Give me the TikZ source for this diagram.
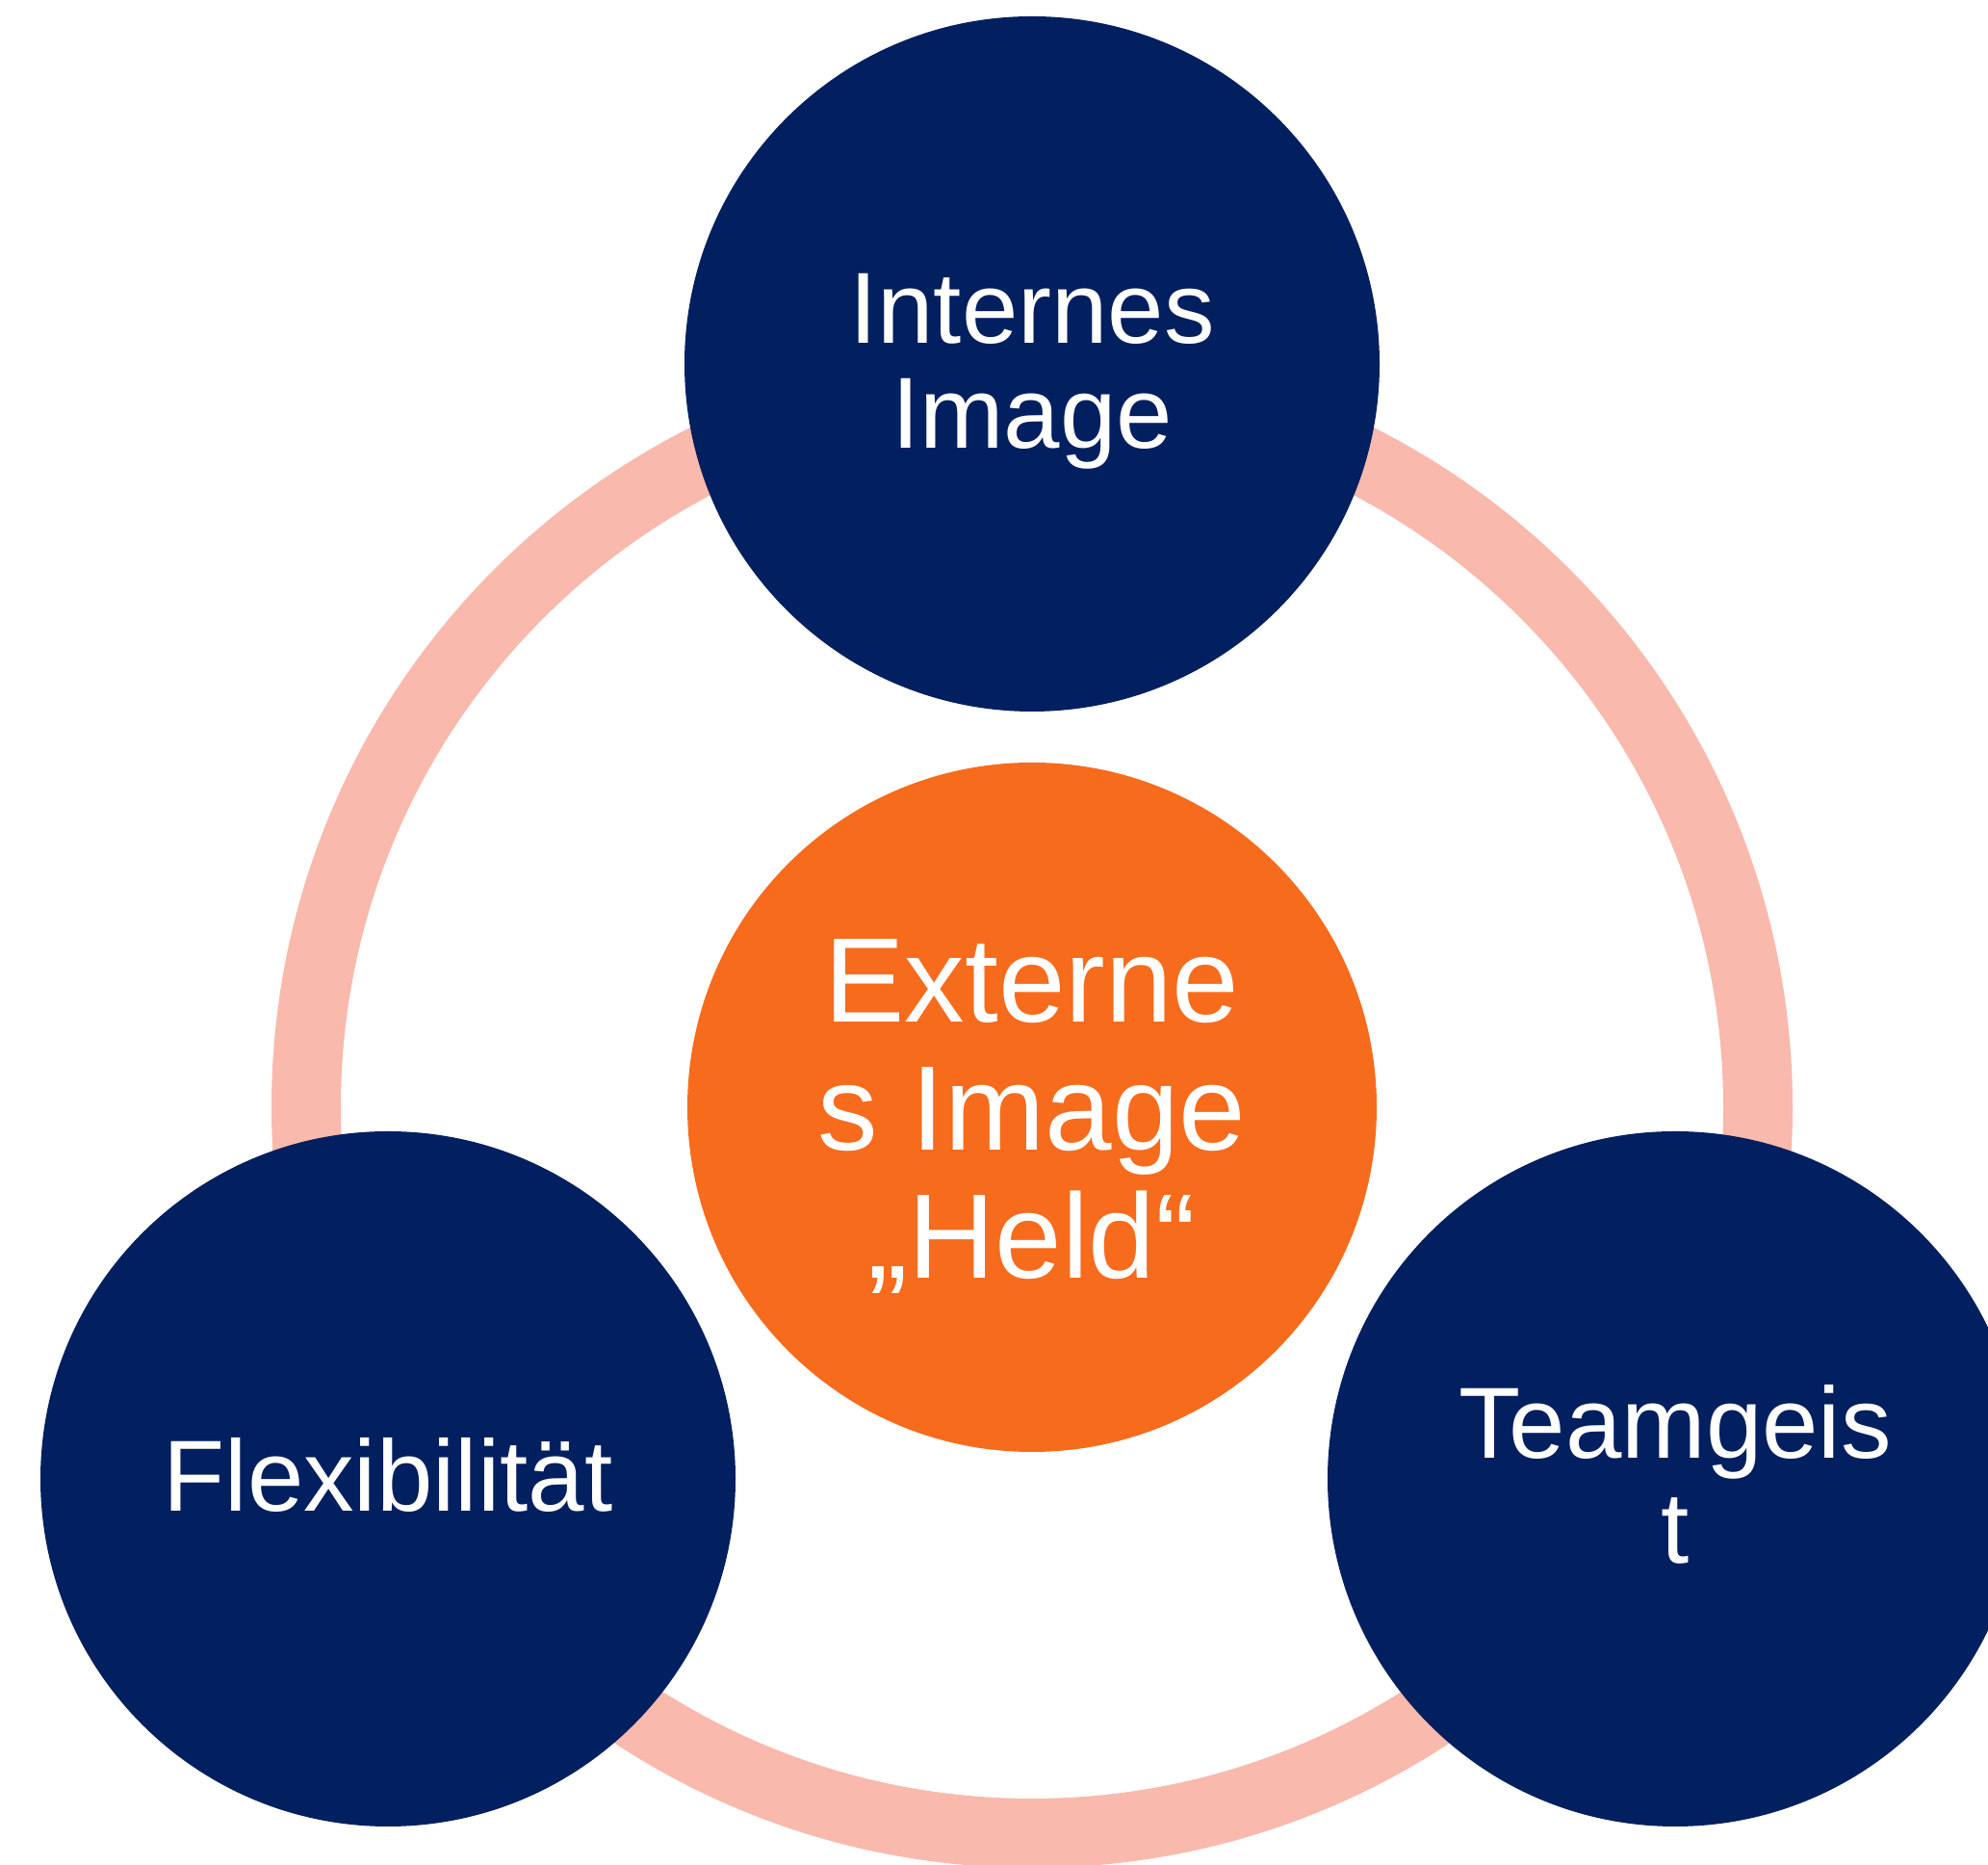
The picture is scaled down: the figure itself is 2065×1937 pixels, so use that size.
\documentclass[tikz,border=0pt]{standalone}
\usepackage{fontspec}
\setmainfont{Liberation Sans}
\usepackage{tikz}
\usetikzlibrary{positioning}
\definecolor{navy}{HTML}{021F5F}
\definecolor{signal}{HTML}{F76B1D}
\definecolor{salmon}{HTML}{F9B9AC}
\tikzset{bubble/.style={circle,inner sep=0pt,minimum size=722pt,
    fill=navy},
  caption/.style={text=white,align=center,inner sep=0pt,
    font=\fontsize{105}{109}\selectfont}}

\begin{document}
\begin{tikzpicture}[x=1pt,y=1pt,
      node distance=772pt,
      on grid]

    \useasboundingbox (0,0) rectangle (2065,1937);

    \node[bubble,fill=signal,minimum size=716pt]
      (Extern) at (1072,787) {};

    % ring behind the outer circles
    \draw[salmon,line width=72pt] (Extern.center) circle (754);

    \node[bubble]
      (Intern) [above=of Extern] {};
    \node[bubble]
      (Flex) [below left=386pt and 669pt of Extern] {};
    \node[bubble]
      (Team) [below right=386pt and 668pt of Extern] {};

    % texts
    \node[caption,font=\fontsize{125}{133}\selectfont]
      (ExternText) at ([yshift=-10pt]Extern.center) {Externe\\s Image\\„Held“};
    \node[caption]
      (InternText) at ([yshift=-8pt]Intern.center) {Internes\\Image};
    \node[caption]
      (FlexText) at ([yshift=4pt]Flex.center) {Flexibilität};
    \node[caption]
      (TeamText) at ([yshift=5pt]Team.center) {Teamgeis\\t};

  \end{tikzpicture}
\end{document}
